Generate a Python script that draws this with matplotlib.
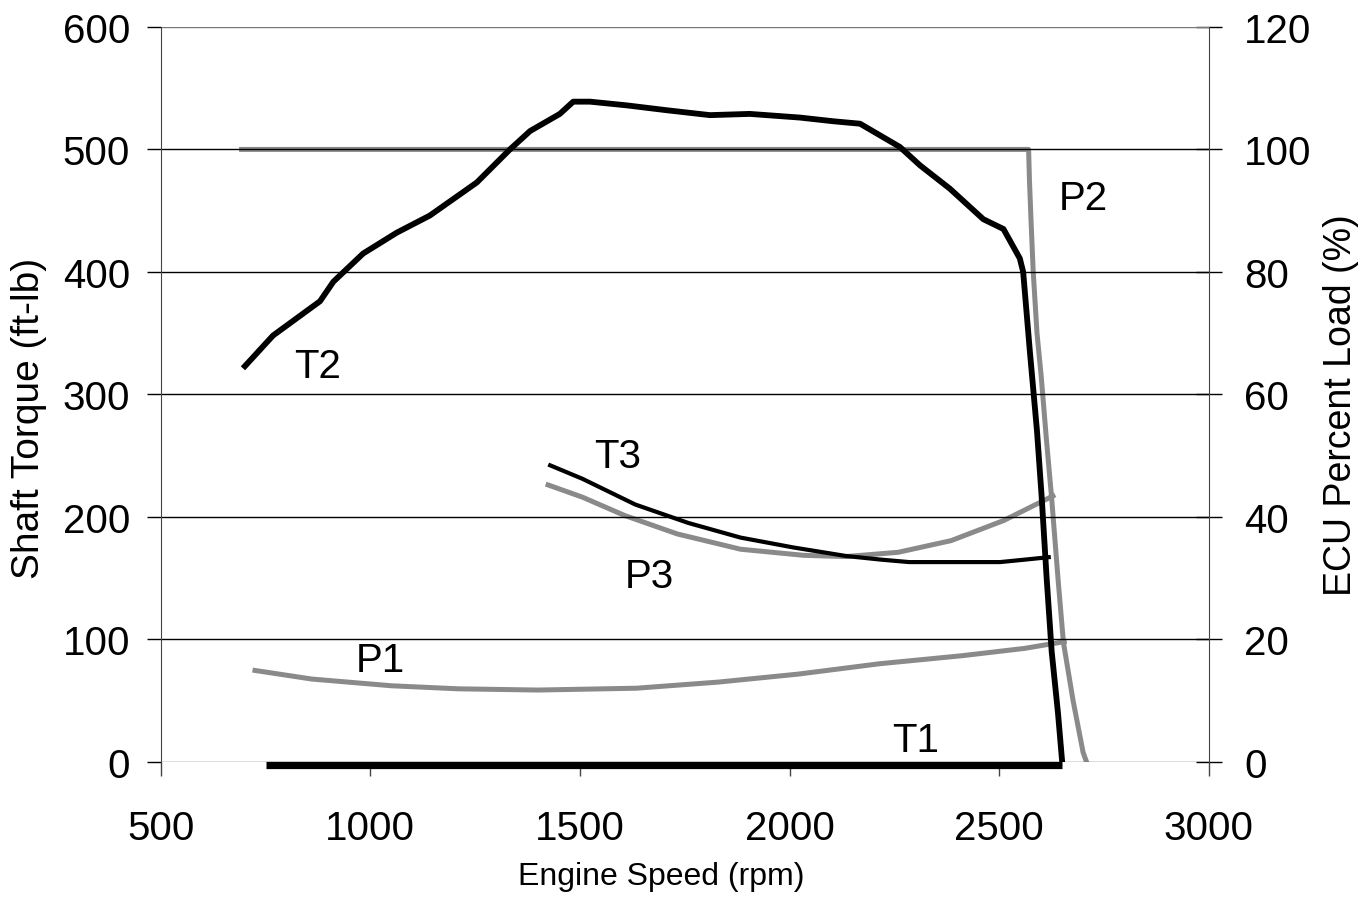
import matplotlib
matplotlib.use("Agg")
import matplotlib.pyplot as plt

plt.rcParams['font.family'] = ['Liberation Sans', 'DejaVu Sans']

# ---- data ---------------------------------------------------------------
# Torque traces (ft-lb, left axis)
t1_rpm = [752, 2650]
t1_torque = [-3, -3]

t2_rpm = [701, 768, 880, 912, 983, 1063, 1142, 1254, 1333, 1381, 1452, 1484,
          1524, 1611, 1707, 1810, 1905, 2025, 2104, 2168, 2223, 2263, 2311,
          2382, 2462, 2510, 2549, 2557, 2573, 2590, 2601, 2613, 2625, 2640, 2650]
t2_torque = [323, 348, 376, 392, 415, 432, 446, 473, 500, 515, 529, 539,
             539, 536, 532, 528, 529, 526, 523, 521, 510, 502, 487,
             468, 443, 435, 411, 400, 335, 270, 217, 150, 90, 40, 0]

t3_rpm = [1429, 1506, 1632, 1758, 1883, 2008, 2134, 2218, 2285, 2502, 2561, 2618]
t3_torque = [242, 231, 210, 195, 183, 175, 168, 165, 163, 163, 165, 167]

# ECU percent load traces (%, right axis)
p1_rpm = [725, 860, 1050, 1210, 1400, 1635, 1830, 2020, 2215, 2410, 2560, 2655]
p1_load = [14.9, 13.5, 12.4, 11.9, 11.7, 12.0, 13.0, 14.3, 16.0, 17.3, 18.5, 19.6]

p2_rpm = [693, 2570, 2572, 2576, 2581, 2590, 2600, 2612, 2625, 2640, 2653,
          2676, 2700, 2708]
p2_load = [100, 100, 95, 88, 80, 70, 63, 53, 43, 30, 19.5, 10, 1.5, 0]

p3_rpm = [1424, 1506, 1607, 1732, 1883, 2034, 2134, 2259, 2385, 2511, 2628]
p3_load = [45.2, 43.2, 40.2, 37.2, 34.7, 33.7, 33.5, 34.2, 36.1, 39.4, 43.4]

x_ticks = [500, 1000, 1500, 2000, 2500, 3000]
torque_ticks = [0, 100, 200, 300, 400, 500, 600]
load_ticks = [0, 20, 40, 60, 80, 100, 120]

# ---- figure -------------------------------------------------------------
fig = plt.figure(figsize=(13.66, 9.2), dpi=100)
ax = fig.add_axes([0.1176, 0.171, 0.885 - 0.1176, 0.9696 - 0.171])
ax2 = ax.twinx()

GREY = '#8a8a8a'
TICK_FS = 29
NAME_FS = 29

ax.set_xlim(500, 3000)
ax.set_ylim(0, 600)
ax2.set_ylim(0, 120)

ax.set_xticks(x_ticks)
ax.set_yticks(torque_ticks)
ax2.set_yticks(load_ticks)

for y in torque_ticks[1:]:
    ax.axhline(y, color='black' if y < 600 else '#777777', lw=1.0, zorder=1)
ax.axhline(0, color='#555555', lw=1.0, zorder=1)

for side in ['top', 'bottom']:
    ax.spines[side].set_visible(False)
    ax2.spines[side].set_visible(False)
ax.spines['left'].set_color('#444444')
ax.spines['right'].set_visible(False)
ax2.spines['left'].set_visible(False)
ax2.spines['right'].set_color('#444444')

ax.tick_params(axis='x', direction='out', length=10, width=1, color='#444444',
               labelsize=TICK_FS, pad=24)
ax.tick_params(axis='y', direction='out', length=10, width=1, color='black',
               labelsize=TICK_FS, pad=12)
ax2.tick_params(axis='y', direction='inout', length=19, width=1, color='black',
                labelsize=TICK_FS, pad=16)

# torque traces
ax.plot(t1_rpm, t1_torque, color='black', lw=5.2, solid_capstyle='butt',
        zorder=4, clip_on=False)
ax.plot(t2_rpm, t2_torque, color='black', lw=4.2, zorder=4)
ax.plot(t3_rpm, t3_torque, color='black', lw=3.0, zorder=4)

# load traces
ax2.plot(p1_rpm, p1_load, color=GREY, lw=3.6, zorder=3)
ax2.plot(p2_rpm, p2_load, color=GREY, lw=3.6, zorder=3)
ax2.plot(p3_rpm, p3_load, color=GREY, lw=3.6, zorder=3)

ax.set_zorder(ax2.get_zorder() + 1)
ax.patch.set_visible(False)

# trace names
ax.text(875, 323, 'T2', fontsize=NAME_FS, ha='center', va='center')
ax.text(1590, 250, 'T3', fontsize=NAME_FS, ha='center', va='center')
ax.text(1665, 152, 'P3', fontsize=NAME_FS, ha='center', va='center')
ax.text(1025, 83, 'P1', fontsize=NAME_FS, ha='center', va='center')
ax.text(2300, 18, 'T1', fontsize=NAME_FS, ha='center', va='center')
ax.text(2700, 460, 'P2', fontsize=NAME_FS, ha='center', va='center')

ax.set_xlabel('Engine Speed (rpm)', fontsize=23)
ax.set_ylabel('Shaft Torque (ft-lb)', fontsize=28)
ax2.set_ylabel('ECU Percent Load (%)', fontsize=27)
ax.xaxis.set_label_coords(0.478, -0.135)
ax.yaxis.set_label_coords(-0.108, 0.468)
ax2.yaxis.set_label_coords(1.109, 0.487)

fig.savefig('out.png', dpi=100)
